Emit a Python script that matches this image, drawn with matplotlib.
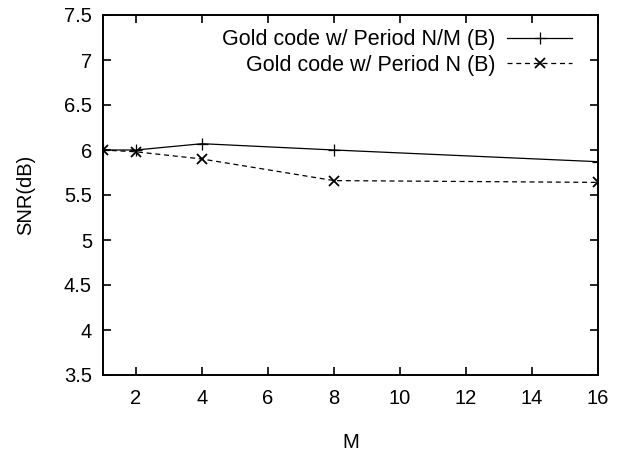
import matplotlib
matplotlib.use("Agg")
import matplotlib.pyplot as plt
from matplotlib.ticker import MultipleLocator, FuncFormatter

plt.rcParams['font.family'] = ['Liberation Sans', 'DejaVu Sans']

# data
m_vals = [1, 2, 4, 8, 16]
snr_nm = [6.0, 6.0, 6.07, 6.0, 5.87]   # Gold code w/ Period N/M (B)
snr_n = [6.0, 5.98, 5.9, 5.66, 5.64]   # Gold code w/ Period N (B)
labels = ["Gold code w/ Period N/M (B)", "Gold code w/ Period N (B)"]

W, H = 624, 457
fig = plt.figure(figsize=(W / 100, H / 100), dpi=100)
ax = fig.add_axes([103 / W, 1 - 375 / H, (598 - 103) / W, 360 / H])

ax.plot(m_vals, snr_nm, color='black', lw=0.9, marker='+', ms=8, mew=0.9, label=labels[0])
ax.plot(m_vals, snr_n, color='black', lw=0.9, ls=(0, (4, 3)), marker='x', ms=7, mew=1.3, label=labels[1])

ax.set_xlim(1, 16)
ax.set_ylim(3.5, 7.5)
ax.xaxis.set_major_locator(MultipleLocator(2))
ax.yaxis.set_major_locator(MultipleLocator(0.5))
ax.yaxis.set_major_formatter(FuncFormatter(lambda v, p: '%g' % v))
ax.tick_params(direction='in', length=6, width=1.2, top=True, right=True, labelsize=14.5)
ax.tick_params(axis='x', pad=10)
ax.tick_params(axis='y', pad=8)
for s in ax.spines.values():
    s.set_linewidth(1.4)

ax.set_xlabel('M', fontsize=14.5)
ax.set_ylabel('SNR(dB)', fontsize=14.5)
ax.xaxis.set_label_coords(0.5, -0.16)
ax.yaxis.set_label_coords(-0.137, 0.5)

leg = ax.legend(loc='upper right', bbox_to_anchor=((572 - 103) / 495, 0.96),
                frameon=False, markerfirst=False, fontsize=15.5, handlelength=3.0,
                handletextpad=0.55, borderpad=0, borderaxespad=0, labelspacing=0.2)

fig.savefig('out.png', dpi=100)
